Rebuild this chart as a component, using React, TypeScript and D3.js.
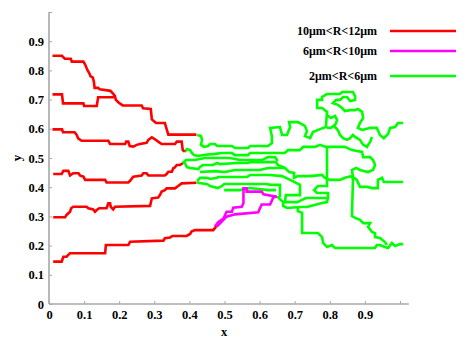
import { useRef, useEffect } from "react";
import * as d3 from "d3";

type Pt = [number, number];

// red: 10um<R<12um
const red1: Pt[] = [[0.01,0.85],[0.037,0.85],[0.045,0.84],[0.062,0.84],[0.065,0.83],[0.098,0.83],[0.103,0.82],[0.11,0.80],[0.115,0.79],[0.118,0.78],[0.125,0.775],[0.128,0.76],[0.13,0.74],[0.14,0.74],[0.145,0.735],[0.175,0.73],[0.183,0.72],[0.188,0.712],[0.19,0.70],[0.198,0.69],[0.21,0.68],[0.264,0.68],[0.268,0.67],[0.29,0.668],[0.293,0.632],[0.30,0.625],[0.305,0.62],[0.33,0.62],[0.335,0.60],[0.34,0.58],[0.42,0.58]];
const red2: Pt[] = [[0.01,0.718],[0.037,0.718],[0.04,0.687],[0.098,0.687],[0.1,0.678],[0.136,0.678],[0.14,0.708],[0.183,0.708],[0.188,0.712]];
const red3: Pt[] = [[0.01,0.598],[0.037,0.598],[0.04,0.588],[0.073,0.588],[0.079,0.579],[0.083,0.567],[0.093,0.559],[0.169,0.559],[0.174,0.548],[0.217,0.548],[0.22,0.556],[0.226,0.556],[0.23,0.541],[0.24,0.539],[0.25,0.545],[0.259,0.548],[0.278,0.552],[0.283,0.562],[0.293,0.571],[0.302,0.564],[0.311,0.556],[0.321,0.548],[0.359,0.548],[0.364,0.556],[0.378,0.556],[0.381,0.527],[0.387,0.521]];
const red4: Pt[] = [[0.012,0.445],[0.036,0.445],[0.041,0.456],[0.055,0.456],[0.06,0.44],[0.069,0.448],[0.084,0.448],[0.088,0.44],[0.098,0.436],[0.103,0.425],[0.16,0.425],[0.164,0.416],[0.226,0.416],[0.231,0.422],[0.24,0.436],[0.264,0.44],[0.269,0.448],[0.278,0.448],[0.283,0.44],[0.33,0.44],[0.335,0.445],[0.34,0.453],[0.35,0.453],[0.354,0.465],[0.359,0.468],[0.364,0.476],[0.373,0.476],[0.381,0.482]];
const red5: Pt[] = [[0.012,0.297],[0.046,0.297],[0.05,0.305],[0.06,0.316],[0.063,0.328],[0.069,0.333],[0.107,0.333],[0.112,0.328],[0.126,0.324],[0.131,0.316],[0.136,0.322],[0.143,0.328],[0.164,0.328],[0.169,0.345],[0.174,0.345],[0.176,0.333],[0.183,0.324],[0.188,0.333],[0.288,0.336],[0.293,0.362],[0.311,0.365],[0.316,0.373],[0.321,0.385],[0.33,0.39],[0.335,0.396],[0.359,0.396],[0.368,0.404],[0.378,0.413],[0.42,0.415]];
const red6: Pt[] = [[0.012,0.145],[0.036,0.145],[0.041,0.162],[0.05,0.162],[0.06,0.174],[0.16,0.174],[0.162,0.202],[0.226,0.202],[0.231,0.213],[0.326,0.217],[0.33,0.225],[0.345,0.228],[0.352,0.233],[0.392,0.233],[0.402,0.24],[0.406,0.248],[0.416,0.253],[0.468,0.253],[0.476,0.265]];

// magenta: 6um<R<10um
const magA: Pt[] = [[0.473,0.265],[0.482,0.28],[0.497,0.293],[0.506,0.316],[0.521,0.316],[0.525,0.33],[0.549,0.333],[0.554,0.345],[0.554,0.396],[0.563,0.396],[0.563,0.385],[0.606,0.385],[0.611,0.376],[0.649,0.367]];
const magB: Pt[] = [[0.478,0.265],[0.506,0.299],[0.53,0.307],[0.596,0.314],[0.601,0.328],[0.606,0.341],[0.63,0.341],[0.639,0.365],[0.649,0.367]];

// green: 2um<R<6um
const grnA: Pt[] = [[0.422,0.579],[0.433,0.575],[0.436,0.562],[0.433,0.545],[0.442,0.538],[0.453,0.541],[0.459,0.548],[0.473,0.548],[0.479,0.541],[0.521,0.541],[0.53,0.534],[0.567,0.534],[0.573,0.541],[0.624,0.541],[0.635,0.551],[0.635,0.575],[0.63,0.603],[0.658,0.606],[0.664,0.579],[0.678,0.579],[0.687,0.606],[0.684,0.623],[0.709,0.623],[0.729,0.61],[0.735,0.592],[0.729,0.575],[0.744,0.568],[0.752,0.589],[0.772,0.599],[0.789,0.606],[0.792,0.658],[0.778,0.671],[0.764,0.671],[0.764,0.699],[0.778,0.699],[0.778,0.709],[0.792,0.719],[0.829,0.719],[0.835,0.726],[0.866,0.726],[0.872,0.712],[0.872,0.699],[0.858,0.695],[0.849,0.709],[0.838,0.709],[0.829,0.699],[0.818,0.699],[0.809,0.688],[0.823,0.682],[0.835,0.671],[0.843,0.661],[0.858,0.664],[0.872,0.664],[0.88,0.668],[0.892,0.658],[0.895,0.637],[0.886,0.62],[0.88,0.603],[0.892,0.596],[0.915,0.603],[0.934,0.603],[0.943,0.579],[0.954,0.568],[0.966,0.582],[0.972,0.603],[0.986,0.606],[0.994,0.62],[1.009,0.62]];
const grnB: Pt[] = [[0.387,0.521],[0.393,0.531],[0.402,0.527],[0.407,0.517],[0.413,0.51],[0.425,0.507],[0.439,0.51],[0.473,0.514],[0.493,0.517],[0.521,0.517],[0.53,0.51],[0.567,0.51],[0.573,0.517],[0.63,0.517],[0.672,0.517],[0.681,0.527],[0.715,0.527],[0.724,0.538],[0.758,0.538],[0.772,0.545],[0.789,0.538],[0.803,0.538],[0.843,0.538],[0.863,0.527],[0.892,0.521],[0.895,0.503],[0.915,0.503],[0.923,0.493],[0.929,0.476],[0.923,0.459],[0.909,0.452],[0.886,0.459],[0.875,0.466],[0.863,0.459],[0.866,0.435],[0.877,0.425],[0.886,0.401],[0.906,0.401],[0.92,0.397],[0.937,0.397],[0.937,0.425],[0.949,0.432],[0.954,0.418],[1.009,0.418]];
const grnC: Pt[] = [[0.379,0.483],[0.387,0.483],[0.393,0.469],[0.402,0.466],[0.425,0.462],[0.43,0.469],[0.439,0.476],[0.467,0.476],[0.479,0.483],[0.487,0.479],[0.536,0.483],[0.567,0.483],[0.573,0.486],[0.63,0.486],[0.647,0.486],[0.652,0.476],[0.672,0.466],[0.684,0.452],[0.698,0.449],[0.698,0.432],[0.709,0.438],[0.744,0.438],[0.778,0.442],[0.786,0.432],[0.801,0.425],[0.829,0.425],[0.843,0.432],[0.863,0.438]];
const grnD: Pt[] = [[0.422,0.421],[0.43,0.432],[0.45,0.432],[0.459,0.428],[0.479,0.432],[0.481,0.435],[0.496,0.435],[0.564,0.435],[0.573,0.442],[0.63,0.442],[0.664,0.438],[0.687,0.425],[0.715,0.408],[0.715,0.373],[0.675,0.373],[0.672,0.349],[0.707,0.349],[0.732,0.363],[0.795,0.363],[0.795,0.38],[0.764,0.38],[0.755,0.39],[0.766,0.404],[0.792,0.404],[0.792,0.538]];
const grnE: Pt[] = [[0.422,0.418],[0.427,0.414],[0.45,0.411],[0.459,0.404],[0.481,0.397],[0.493,0.404],[0.499,0.411],[0.536,0.411],[0.621,0.411],[0.63,0.408],[0.658,0.408],[0.658,0.37],[0.652,0.366],[0.667,0.349],[0.667,0.336],[0.678,0.329],[0.715,0.332],[0.735,0.332],[0.778,0.346],[0.792,0.349],[0.795,0.366]];
const grnF: Pt[] = [[0.709,0.332],[0.709,0.318],[0.721,0.312],[0.721,0.243],[0.766,0.243],[0.778,0.229],[0.781,0.209],[0.792,0.195],[0.806,0.202],[0.815,0.192],[0.929,0.192],[0.934,0.202],[0.943,0.202],[0.957,0.195],[0.966,0.192],[0.977,0.209],[0.986,0.199],[1.0,0.205],[1.009,0.205]];
const grnG: Pt[] = [[0.863,0.438],[0.866,0.425],[0.863,0.301],[0.872,0.295],[0.886,0.288],[0.895,0.277],[0.915,0.277],[0.909,0.264],[0.92,0.247],[0.929,0.243],[0.929,0.229],[0.943,0.226],[0.957,0.212],[0.963,0.202]];
const grnH: Pt[] = [[0.809,0.613],[0.823,0.596],[0.829,0.579],[0.838,0.568],[0.849,0.562],[0.858,0.568],[0.866,0.579],[0.872,0.572],[0.886,0.562],[0.892,0.551],[0.895,0.545],[0.906,0.538],[0.909,0.545],[0.915,0.555],[0.92,0.572]];
const grnI: Pt[] = [[0.792,0.647],[0.803,0.637],[0.815,0.644],[0.821,0.63],[0.815,0.613],[0.803,0.603],[0.792,0.603]];
const grnJ: Pt[] = [[0.382,0.483],[0.39,0.493],[0.416,0.493],[0.444,0.5],[0.516,0.5],[0.544,0.493],[0.607,0.493],[0.624,0.503],[0.644,0.503],[0.652,0.49]];
const grnK: Pt[] = [[0.43,0.452],[0.473,0.455],[0.501,0.452],[0.53,0.459],[0.601,0.459],[0.624,0.466],[0.672,0.466]];
const grnL: Pt[] = [[0.499,0.39],[0.544,0.39],[0.573,0.397],[0.624,0.39],[0.647,0.39]];

const redPaths = [red1, red2, red3, red4, red5, red6];
const magentaPaths = [magA, magB];
const greenPaths = [grnA, grnB, grnC, grnD, grnE, grnF, grnG, grnH, grnI, grnJ, grnK, grnL];

const legendLabels = ["10μm<R<12μm", "6μm<R<10μm", "2μm<R<6μm"];
const legendColors = ["#ff0000", "#ff00ff", "#00ff00"];
const tickValues = [0, 0.1, 0.2, 0.3, 0.4, 0.5, 0.6, 0.7, 0.8, 0.9, 1];

const App = () => {
  const svgRef = useRef(null);

  useEffect(() => {
    const svg = d3.select(svgRef.current);
    svg.selectAll("*").remove();

    const x = d3.scaleLinear().domain([0, 1]).range([49, 400]);
    const y = d3.scaleLinear().domain([0, 1]).range([304, 12]);
    const line = d3.line<Pt>().x((d) => x(d[0])).y((d) => y(d[1]));
    const font = "'Liberation Serif', 'Times New Roman', serif";
    const axisColor = "#a8a8a8";

    const fmt = (d) => (d >= 1 ? "" : d === 0 ? "0" : d3.format(".1f")(d));

    const xAxis = svg
      .append("g")
      .attr("transform", `translate(0,${y(0)})`)
      .call(d3.axisBottom(x).tickValues(tickValues).tickSizeInner(-3).tickSizeOuter(0).tickPadding(6).tickFormat(fmt));
    const yAxis = svg
      .append("g")
      .attr("transform", `translate(${x(0)},0)`)
      .call(d3.axisLeft(y).tickValues(tickValues).tickSizeInner(-3).tickSizeOuter(0).tickPadding(5).tickFormat(fmt));

    [xAxis, yAxis].forEach((g) => {
      g.select(".domain").remove();
      g.selectAll(".tick line").attr("stroke", axisColor).attr("stroke-width", 1);
      g.selectAll(".tick text")
        .attr("fill", "#000")
        .style("font-family", font)
        .style("font-weight", "bold")
        .style("font-size", "12.5px");
    });

    // axis lines (x one runs a bit past 1.0)
    svg.append("line")
      .attr("x1", x(0)).attr("x2", x(1.025))
      .attr("y1", y(0)).attr("y2", y(0))
      .attr("stroke", axisColor).attr("stroke-width", 1.6);
    svg.append("line")
      .attr("x1", x(0)).attr("x2", x(0))
      .attr("y1", y(0)).attr("y2", y(1))
      .attr("stroke", axisColor).attr("stroke-width", 1.6);

    const drawGroup = (paths, color) => {
      svg.append("g")
        .selectAll("path")
        .data(paths)
        .join("path")
        .attr("d", (d) => line(d))
        .attr("fill", "none")
        .attr("stroke", color)
        .attr("stroke-width", 2.6)
        .attr("stroke-linejoin", "miter");
    };
    drawGroup(greenPaths, legendColors[2]);
    drawGroup(magentaPaths, legendColors[1]);
    drawGroup(redPaths, legendColors[0]);

    // legend
    const legendY = [31, 51, 76];
    const legend = svg.append("g");
    legendLabels.forEach((label, i) => {
      legend.append("text")
        .attr("x", 377)
        .attr("y", legendY[i])
        .attr("dy", "0.35em")
        .attr("text-anchor", "end")
        .style("font-family", font)
        .style("font-weight", "bold")
        .style("font-size", "12px")
        .text(label);
      legend.append("line")
        .attr("x1", 390).attr("x2", 456)
        .attr("y1", legendY[i]).attr("y2", legendY[i])
        .attr("stroke", legendColors[i])
        .attr("stroke-width", 2.6);
    });

    // axis titles
    svg.append("text")
      .attr("x", 224).attr("y", 336)
      .attr("text-anchor", "middle")
      .style("font-family", font).style("font-weight", "bold").style("font-size", "12.5px")
      .text("x");
    svg.append("text")
      .attr("transform", "translate(21,158) rotate(-90)")
      .attr("text-anchor", "middle")
      .style("font-family", font).style("font-weight", "bold").style("font-size", "13px")
      .text("y");
  }, []);

  return (
    <svg
      ref={svgRef}
      width={467}
      height={350}
      style={{ position: "absolute", left: 0, top: 0, background: "#fff" }}
    />
  );
};

export default App;
